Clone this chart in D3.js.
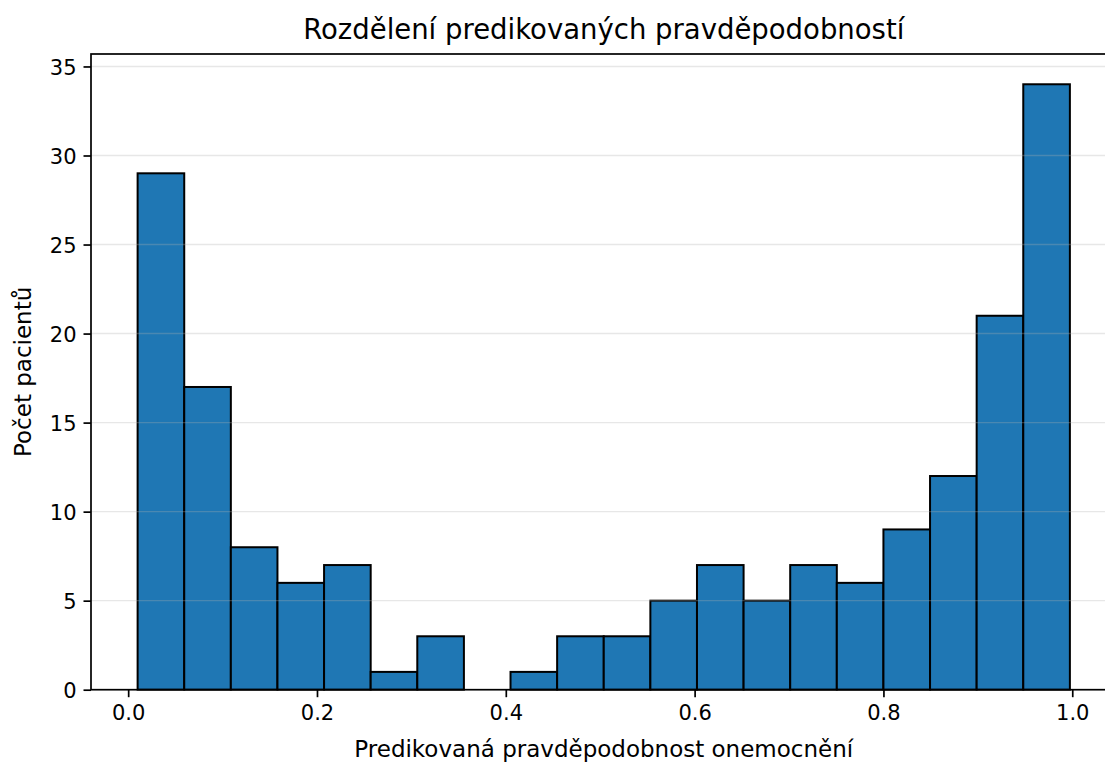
<!DOCTYPE html>
<html>
<head>
<meta charset="utf-8">
<script src="https://cdn.jsdelivr.net/npm/d3@7"></script>
<style>
  html, body { margin: 0; padding: 0; background: #fff; }
  svg { display: block; }
  text { font-family: "DejaVu Sans", sans-serif; fill: #000; }
</style>
</head>
<body>
<svg id="chart" width="1105" height="762"></svg>
<script>
// Histogram counts per bin (20 equal-width bins)
const counts = [29, 17, 8, 6, 7, 1, 3, 0, 1, 3, 3, 5, 7, 5, 7, 6, 9, 12, 21, 34];
// Range covered by the bins (min and max predicted probability)
const binRange = [0.0100, 0.9975];
const xTickValues = [0.0, 0.2, 0.4, 0.6, 0.8, 1.0];
const yTickValues = [0, 5, 10, 15, 20, 25, 30, 35];

const titleText = "Rozdělení predikovaných pravděpodobností";
const xLabelText = "Predikovaná pravděpodobnost onemocnění";
const yLabelText = "Počet pacientů";

const svg = d3.select("#chart");

// Axes box in pixels
const plot = { left: 91, right: 1116.5, top: 54, bottom: 689.7 };

// Bin edges
const nBins = counts.length;
const binW = (binRange[1] - binRange[0]) / nBins;
const bins = counts.map((c, i) => ({
  x0: binRange[0] + i * binW,
  x1: binRange[0] + (i + 1) * binW,
  count: c
}));

// Auto-margins of 5% on x, 5% headroom on y
const span = binRange[1] - binRange[0];
const x = d3.scaleLinear()
  .domain([binRange[0] - 0.05 * span, binRange[1] + 0.05 * span])
  .range([plot.left, plot.right]);
const y = d3.scaleLinear()
  .domain([0, d3.max(counts) * 1.05])
  .range([plot.bottom, plot.top]);

const tickFont = 21;
const labelFont = 23;
const titleFont = 27.5;
const tickLen = 7.5;
const tickPad = 7;

// Bars
svg.append("g")
  .selectAll("rect")
  .data(bins)
  .join("rect")
  .attr("x", d => x(d.x0))
  .attr("y", d => y(d.count))
  .attr("width", d => x(d.x1) - x(d.x0))
  .attr("height", d => y(0) - y(d.count))
  .attr("fill", "#1f77b4")
  .attr("stroke", "#000")
  .attr("stroke-width", 2);

// Horizontal grid lines on top of the bars
svg.append("g")
  .selectAll("line")
  .data(yTickValues)
  .join("line")
  .attr("x1", plot.left)
  .attr("x2", plot.right)
  .attr("y1", d => y(d))
  .attr("y2", d => y(d))
  .attr("stroke", "#b0b0b0")
  .attr("stroke-opacity", 0.3)
  .attr("stroke-width", 1.4);

// Axes with d3 axis generators
const xAxis = d3.axisBottom(x)
  .tickValues(xTickValues)
  .tickFormat(d3.format(".1f"))
  .tickSize(tickLen)
  .tickPadding(tickPad);
const gx = svg.append("g")
  .attr("transform", `translate(0,${plot.bottom})`)
  .call(xAxis);
gx.select(".domain").remove();
gx.selectAll(".tick line").attr("stroke", "#000").attr("stroke-width", 1.7);
gx.selectAll(".tick text")
  .attr("font-size", tickFont)
  .attr("font-family", "DejaVu Sans")
  .attr("fill", "#000")
  .attr("dy", null)
  .attr("y", tickLen + tickPad + 15.5);

const yAxis = d3.axisLeft(y)
  .tickValues(yTickValues)
  .tickFormat(d3.format("d"))
  .tickSize(tickLen)
  .tickPadding(tickPad);
const gy = svg.append("g")
  .attr("transform", `translate(${plot.left},0)`)
  .call(yAxis);
gy.select(".domain").remove();
gy.selectAll(".tick line").attr("stroke", "#000").attr("stroke-width", 1.7);
gy.selectAll(".tick text")
  .attr("font-size", tickFont)
  .attr("font-family", "DejaVu Sans")
  .attr("fill", "#000")
  .attr("dy", "0.36em");

// Spines
svg.append("rect")
  .attr("x", plot.left)
  .attr("y", plot.top)
  .attr("width", plot.right - plot.left)
  .attr("height", plot.bottom - plot.top)
  .attr("fill", "none")
  .attr("stroke", "#000")
  .attr("stroke-width", 1.7);

const cx = (plot.left + plot.right) / 2;

// Title
svg.append("text")
  .attr("x", cx)
  .attr("y", 38.5)
  .attr("text-anchor", "middle")
  .attr("font-size", titleFont)
  .text(titleText);

// X label
svg.append("text")
  .attr("x", cx)
  .attr("y", 756.5)
  .attr("text-anchor", "middle")
  .attr("font-size", labelFont)
  .text(xLabelText);

// Y label
svg.append("text")
  .attr("transform", `translate(31,${(plot.top + plot.bottom) / 2}) rotate(-90)`)
  .attr("text-anchor", "middle")
  .attr("font-size", labelFont)
  .text(yLabelText);
</script>
</body>
</html>
